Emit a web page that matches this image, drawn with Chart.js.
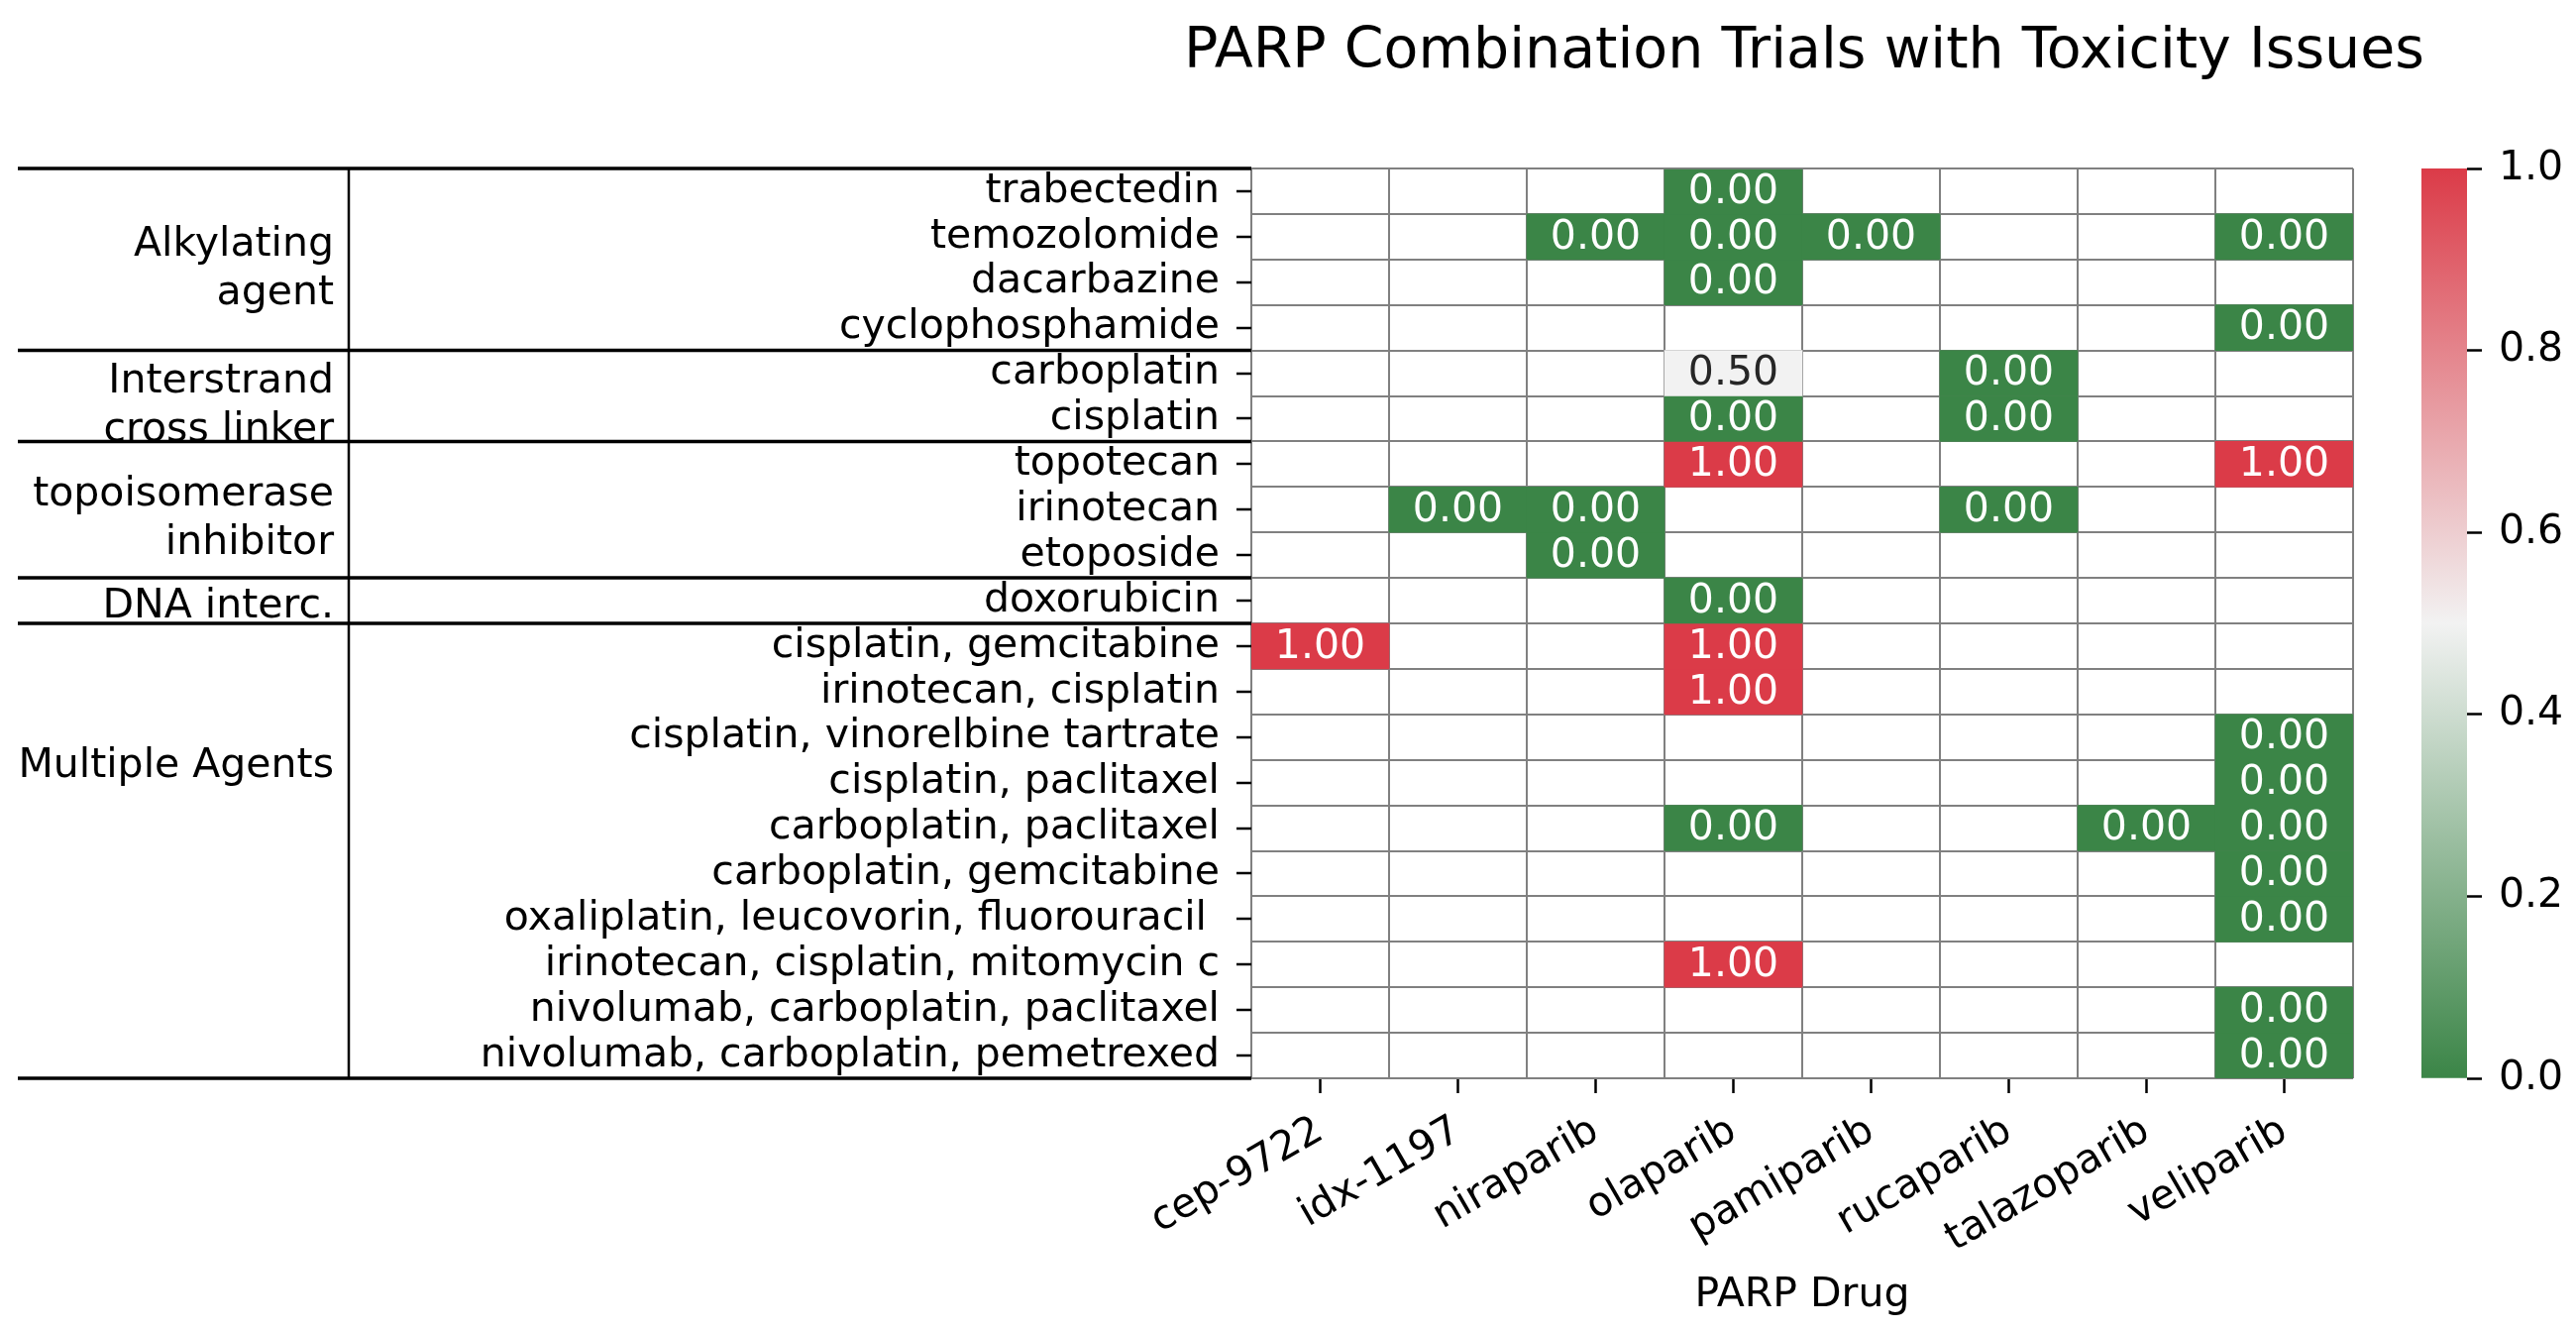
<!DOCTYPE html>
<html>
<head>
<meta charset="utf-8">
<title>PARP Combination Trials with Toxicity Issues</title>
<script src="https://cdn.jsdelivr.net/npm/chart.js@4.4.1/dist/chart.umd.min.js"></script>
<style>
  html, body { margin: 0; padding: 0; background: #fff; overflow: hidden; }
  #heat { position: absolute; left: 0; top: 0; }
  #bar { position: absolute; left: 2400px; top: 0; }
</style>
</head>
<body>
<canvas id="heat" width="2600" height="1344"></canvas>
<canvas id="bar" width="200" height="1344"></canvas>
<script>
const drugs = ['cep-9722', 'idx-1197', 'niraparib', 'olaparib', 'pamiparib', 'rucaparib', 'talazoparib', 'veliparib'];

const agents = [
    'trabectedin', 'temozolomide', 'dacarbazine', 'cyclophosphamide',
    'carboplatin', 'cisplatin',
    'topotecan', 'irinotecan', 'etoposide',
    'doxorubicin',
    'cisplatin, gemcitabine', 'irinotecan, cisplatin', 'cisplatin, vinorelbine tartrate',
    'cisplatin, paclitaxel', 'carboplatin, paclitaxel', 'carboplatin, gemcitabine',
    'oxaliplatin, leucovorin, fluorouracil ', 'irinotecan, cisplatin, mitomycin c',
    'nivolumab, carboplatin, paclitaxel', 'nivolumab, carboplatin, pemetrexed'
];

const groupNames = [['Alkylating', 'agent'], ['Interstrand', 'cross linker'], ['topoisomerase', 'inhibitor'], ['DNA interc.'], ['Multiple Agents']];
const groupSizes = [4, 2, 3, 1, 10];

const _ = null;
// fraction of trials with toxicity issues, one row per agent, one column per drug
const toxicity = [
    [_, _, _, 0, _, _, _, _],
    [_, _, 0, 0, 0, _, _, 0],
    [_, _, _, 0, _, _, _, _],
    [_, _, _, _, _, _, _, 0],
    [_, _, _, 0.5, _, 0, _, _],
    [_, _, _, 0, _, 0, _, _],
    [_, _, _, 1, _, _, _, 1],
    [_, 0, 0, _, _, 0, _, _],
    [_, _, 0, _, _, _, _, _],
    [_, _, _, 0, _, _, _, _],
    [1, _, _, 1, _, _, _, _],
    [_, _, _, 1, _, _, _, _],
    [_, _, _, _, _, _, _, 0],
    [_, _, _, _, _, _, _, 0],
    [_, _, _, 0, _, _, 0, 0],
    [_, _, _, _, _, _, _, 0],
    [_, _, _, _, _, _, _, 0],
    [_, _, _, 1, _, _, _, _],
    [_, _, _, _, _, _, _, 0],
    [_, _, _, _, _, _, _, 0]
];

const colorbarTicks = [0, 0.2, 0.4, 0.6, 0.8, 1.0];

const lowColor = [59, 133, 71];
const midColor = [242, 242, 242];
const highColor = [219, 59, 72];

function mix(a, b, t) {
    return a.map((v, i) => Math.round(v + (b[i] - v) * t));
}

function rgbFor(v) {
    return v < 0.5 ? mix(lowColor, midColor, v / 0.5) : mix(midColor, highColor, (v - 0.5) / 0.5);
}

function colorFor(v) {
    return 'rgb(' + rgbFor(v).join(',') + ')';
}

// same rule seaborn uses for annotation colour
function textColorFor(v) {
    const lin = rgbFor(v).map(c => {
        c = c / 255;
        return c <= 0.03928 ? c / 12.92 : Math.pow((c + 0.055) / 1.055, 2.4);
    });
    const lum = 0.2126 * lin[0] + 0.7152 * lin[1] + 0.0722 * lin[2];
    return lum > 0.408 ? '#262626' : '#ffffff';
}

Chart.defaults.font.family = "'DejaVu Sans', sans-serif";
Chart.defaults.font.size = 41;
Chart.defaults.color = '#000';

const FONT = { family: "'DejaVu Sans', sans-serif", size: 41 };

// writes the value in every filled cell
const cellText = {
    id: 'cellText',
    afterDatasetsDraw(chart) {
        const ctx = chart.ctx;
        ctx.save();
        ctx.font = '41px "DejaVu Sans"';
        ctx.textAlign = 'center';
        ctx.textBaseline = 'middle';
        chart.data.datasets.forEach((ds, r) => {
            const meta = chart.getDatasetMeta(r);
            meta.data.forEach((el, c) => {
                const v = toxicity[r][c];
                if (v === null) return;
                ctx.fillStyle = textColorFor(v);
                ctx.fillText(v.toFixed(2), el.x, (el.y + el.base) / 2 + 1);
            });
        });
        ctx.restore();
    }
};

// title centred over the heatmap
const heatTitle = {
    id: 'heatTitle',
    afterDraw(chart) {
        const ctx = chart.ctx;
        const a = chart.chartArea;
        ctx.save();
        ctx.font = '57px "DejaVu Sans"';
        ctx.fillStyle = '#000';
        ctx.textAlign = 'center';
        ctx.textBaseline = 'alphabetic';
        ctx.fillText('PARP Combination Trials with Toxicity Issues', (a.left + a.right) / 2 + 2, 68);
        ctx.restore();
    }
};

// group table on the left
const groupTable = {
    id: 'groupTable',
    afterDraw(chart) {
        const ctx = chart.ctx;
        const y = chart.scales.y;
        const right = chart.chartArea.left;
        const lineLeft = 18, divider = 352, textRight = 337;
        ctx.save();
        ctx.strokeStyle = '#000';
        let start = 0;
        const bounds = [0];
        groupSizes.forEach(n => { start += n; bounds.push(start); });
        ctx.lineWidth = 3.5;
        bounds.forEach(b => {
            const py = y.getPixelForValue(b);
            ctx.beginPath();
            ctx.moveTo(lineLeft, py);
            ctx.lineTo(right, py);
            ctx.stroke();
        });
        ctx.lineWidth = 2.5;
        ctx.beginPath();
        ctx.moveTo(divider, y.getPixelForValue(0));
        ctx.lineTo(divider, y.getPixelForValue(agents.length));
        ctx.stroke();

        ctx.font = '41px "DejaVu Sans"';
        ctx.fillStyle = '#000';
        ctx.textAlign = 'right';
        ctx.textBaseline = 'alphabetic';
        groupNames.forEach((lines, g) => {
            let mid = (bounds[g] + bounds[g + 1]) / 2;
            if (g === groupNames.length - 1) mid = 13;
            const cy = y.getPixelForValue(mid);
            const first = cy + 17 - (lines.length - 1) * 21;
            lines.forEach((t, k) => ctx.fillText(t, textRight, first + k * 49));
        });
        ctx.restore();
    }
};

const heatChart = new Chart(document.getElementById('heat'), {
    type: 'bar',
    data: {
        labels: drugs,
        datasets: agents.map((a, r) => ({
            label: a,
            data: toxicity[r].map(v => v === null ? null : [r, r + 1]),
            backgroundColor: toxicity[r].map(v => v === null ? 'rgba(0,0,0,0)' : colorFor(v)),
            borderWidth: 0,
            grouped: false,
            barPercentage: 1,
            categoryPercentage: 1,
            xAxisID: 'x',
            yAxisID: 'y'
        }))
    },
    options: {
        responsive: false,
        animation: false,
        devicePixelRatio: 1,
        layout: { padding: { left: 0, right: 225, top: 170, bottom: 0 } },
        plugins: {
            legend: { display: false },
            tooltip: { enabled: false },
            title: { display: false }
        },
        scales: {
            x: {
                type: 'category',
                position: 'bottom',
                offset: true,
                grid: { display: true, drawOnChartArea: false, offset: false, tickLength: 15, tickWidth: 2.5, tickColor: '#000' },
                border: { display: false },
                ticks: { font: FONT, color: '#000', minRotation: 30, maxRotation: 30, autoSkip: false, padding: 14 },
                title: { display: true, text: 'PARP Drug', font: FONT, color: '#000', padding: { top: 0, bottom: 12 } },
                afterFit: s => { s.height = 256; }
            },
            x2: {
                type: 'category',
                position: 'bottom',
                offset: true,
                z: 1,
                grid: { display: true, drawOnChartArea: true, offset: true, drawTicks: false, color: '#808080', lineWidth: 2 },
                border: { display: false },
                ticks: { display: false },
                afterFit: s => { s.height = 0; }
            },
            y: {
                type: 'linear',
                reverse: true,
                min: 0,
                max: agents.length,
                z: 1,
                afterBuildTicks: s => {
                    const t = [];
                    for (let v = 0; v <= agents.length; v += 0.5) t.push({ value: v });
                    s.ticks = t;
                },
                ticks: {
                    autoSkip: false,
                    font: FONT,
                    color: '#000',
                    padding: 17,
                    callback: v => Number.isInteger(v) ? '' : agents[Math.floor(v)]
                },
                grid: {
                    color: c => Number.isInteger(c.tick.value) ? '#808080' : 'rgba(0,0,0,0)',
                    lineWidth: 2,
                    tickLength: 15,
                    tickWidth: 2.5,
                    tickColor: c => Number.isInteger(c.tick.value) ? 'rgba(0,0,0,0)' : '#000'
                },
                border: { display: false },
                afterFit: s => { s.width = 1263; }
            }
        }
    },
    plugins: [cellText, groupTable, heatTitle]
});

const barChart = new Chart(document.getElementById('bar'), {
    type: 'bar',
    data: {
        labels: [''],
        datasets: [{
            data: [[0, 1]],
            borderWidth: 0,
            barPercentage: 1,
            categoryPercentage: 1,
            backgroundColor: c => {
                const { ctx, chartArea } = c.chart;
                if (!chartArea) return colorFor(0.5);
                const g = ctx.createLinearGradient(0, chartArea.bottom, 0, chartArea.top);
                g.addColorStop(0, colorFor(0));
                g.addColorStop(0.5, colorFor(0.5));
                g.addColorStop(1, colorFor(1));
                return g;
            }
        }]
    },
    options: {
        responsive: false,
        animation: false,
        devicePixelRatio: 1,
        layout: { padding: { left: 44, right: 0, top: 170, bottom: 256 } },
        plugins: { legend: { display: false }, tooltip: { enabled: false } },
        scales: {
            x: { display: false },
            y: {
                position: 'right',
                min: 0,
                max: 1,
                afterBuildTicks: s => { s.ticks = colorbarTicks.map(v => ({ value: v })); },
                ticks: { font: FONT, color: '#000', padding: 17, callback: v => v.toFixed(1) },
                grid: { drawOnChartArea: false, tickLength: 15, tickWidth: 2.5, tickColor: '#000' },
                border: { display: false },
                afterFit: s => { s.width = 110; }
            }
        }
    }
});
</script>
</body>
</html>
